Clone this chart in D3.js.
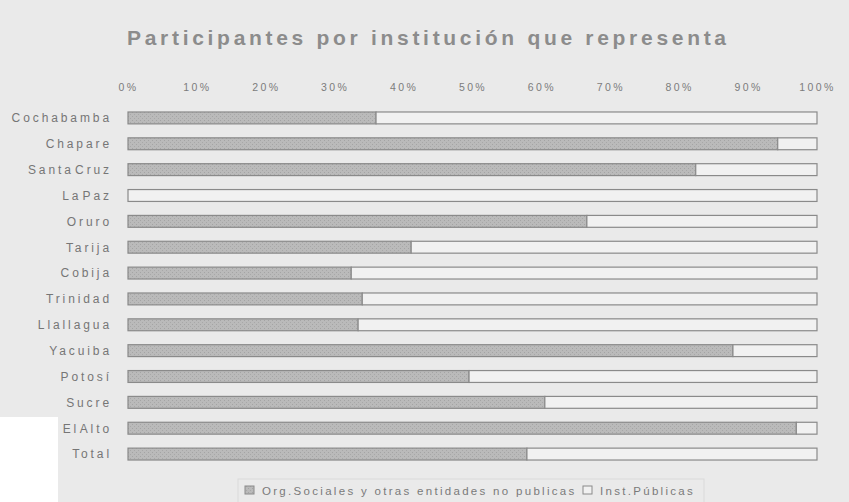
<!DOCTYPE html>
<html>
<head>
<meta charset="utf-8">
<script src="https://cdn.jsdelivr.net/npm/d3@7"></script>
<style>
  body { margin: 0; background: #eaeaea; }
  text { font-family: "Liberation Sans", Arial, sans-serif; }
</style>
</head>
<body>
<div id="chart"></div>
<script>
// categories top to bottom
var categories = ["Cochabamba", "Chapare", "Santa Cruz", "La Paz", "Oruro", "Tarija", "Cobija",
  "Trinidad", "Llallagua", "Yacuiba", "Potosí", "Sucre", "El Alto", "Total"]
// share of Org.Sociales (percent), rest is Inst.Públicas
var orgSociales = [36, 94.3, 82.4, 0, 66.6, 41.1, 32.4, 34, 33.4, 87.8, 49.5, 60.5, 97, 57.9]
var instPublicas = orgSociales.map(function(v) { return 100 - v })
var xTicks = [0, 10, 20, 30, 40, 50, 60, 70, 80, 90, 100]
var seriesNames = ["Org.Sociales y otras entidades no publicas", "Inst.Públicas"]

var width = 849
var height = 502

var svg = d3.select("#chart").append("svg")
    .attr("width", width)
    .attr("height", height)

// scan background + white patch bottom left
svg.append("rect").attr("width", width).attr("height", height).style("fill", "#eaeaea")
svg.append("rect").attr("x", 0).attr("y", 417).attr("width", 58).attr("height", 85).style("fill", "#ffffff")

// grainy texture for the dark series
var defs = svg.append("defs")
var pat = defs.append("pattern")
    .attr("id", "grain")
    .attr("width", 4).attr("height", 4)
    .attr("patternUnits", "userSpaceOnUse")
pat.append("rect").attr("width", 4).attr("height", 4).style("fill", "#bababa")
pat.append("rect").attr("x", 0).attr("y", 0).attr("width", 1).attr("height", 1).style("fill", "#a4a4a4")
pat.append("rect").attr("x", 2).attr("y", 2).attr("width", 1).attr("height", 1).style("fill", "#a8a8a8")

var xScale = d3.scaleLinear()
    .domain([0, 100])
    .range([128, 817])

var yScale = d3.scaleBand()
    .domain(categories)
    .range([105, 467])
    .paddingInner(0.54)
    .paddingOuter(0.27)

// title
svg.append("text")
    .attr("x", 127)
    .attr("y", 45)
    .style("font-size", "21px")
    .style("font-weight", "bold")
    .style("letter-spacing", "3.7px")
    .style("fill", "#8c8c8c")
    .text("Participantes por institución que representa")

// top axis
var xAxis = d3.axisTop(xScale)
    .tickValues(xTicks)
    .tickSize(0)
    .tickPadding(0)
    .tickFormat(function(d) { return d + "%" })
var gx = svg.append("g")
    .attr("transform", "translate(0,91)")
    .call(xAxis)
gx.select(".domain").remove()
gx.selectAll("text")
    .attr("dy", 0)
    .style("font-size", "10.5px")
    .style("letter-spacing", "2.4px")
    .style("fill", "#7c7c7c")
    .style("font-family", "'Liberation Sans', Arial, sans-serif")

// category axis
var yAxis = d3.axisLeft(yScale).tickSize(0).tickPadding(0)
var gy = svg.append("g")
    .attr("transform", "translate(112,0)")
    .call(yAxis)
gy.select(".domain").remove()
gy.selectAll("text")
    .attr("dy", "0.36em")
    .style("font-size", "12px")
    .style("letter-spacing", "2.9px")
    .style("word-spacing", "-5px")
    .style("fill", "#767676")
    .style("font-family", "'Liberation Sans', Arial, sans-serif")

// bars: org sociales first then inst publicas stacked
var rows = svg.append("g").selectAll("g")
    .data(categories)
    .enter()
    .append("g")

rows.append("rect")
    .attr("x", xScale(0))
    .attr("y", function(d) { return yScale(d) })
    .attr("width", function(d, i) { return xScale(orgSociales[i]) - xScale(0) })
    .attr("height", yScale.bandwidth())
    .style("fill", "url(#grain)")
    .style("stroke", "#8a8a8a")
    .style("stroke-width", 1.2)

rows.append("rect")
    .attr("x", function(d, i) { return xScale(orgSociales[i]) })
    .attr("y", function(d) { return yScale(d) })
    .attr("width", function(d, i) { return xScale(orgSociales[i] + instPublicas[i]) - xScale(orgSociales[i]) })
    .attr("height", yScale.bandwidth())
    .style("fill", "#f1f1f1")
    .style("stroke", "#8a8a8a")
    .style("stroke-width", 1.2)

// legend
var legend = svg.append("g")
svg.append("rect")
    .attr("x", 238).attr("y", 479).attr("width", 466).attr("height", 26)
    .style("fill", "none").style("stroke", "#dadada")

legend.append("rect")
    .attr("x", 245).attr("y", 486).attr("width", 9).attr("height", 8)
    .style("fill", "url(#grain)").style("stroke", "#8a8a8a")
legend.append("text")
    .attr("x", 262).attr("y", 495)
    .style("font-size", "11.5px")
    .style("letter-spacing", "2.3px")
    .style("fill", "#7a7a7a")
    .text(seriesNames[0])
legend.append("rect")
    .attr("x", 583).attr("y", 486).attr("width", 9).attr("height", 8)
    .style("fill", "#f1f1f1").style("stroke", "#8a8a8a")
legend.append("text")
    .attr("x", 600).attr("y", 495)
    .style("font-size", "11.5px")
    .style("letter-spacing", "2.3px")
    .style("fill", "#7a7a7a")
    .text(seriesNames[1])
</script>
</body>
</html>
